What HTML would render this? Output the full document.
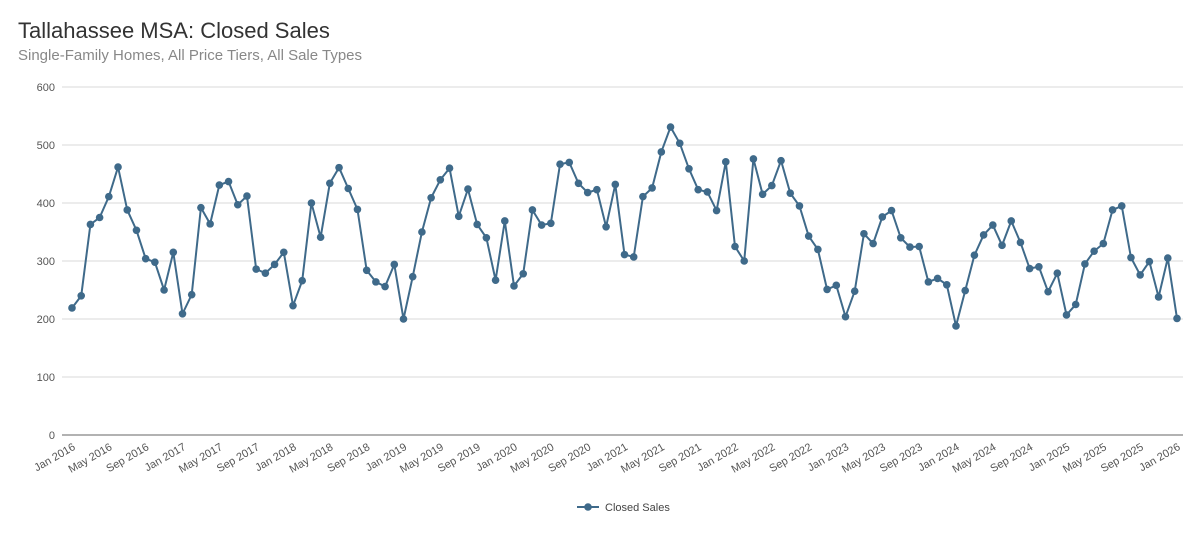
<!DOCTYPE html>
<html><head><meta charset="utf-8"><style>
body{margin:0;background:#fff;font-family:"Liberation Sans",sans-serif;}
#wrap{position:relative;width:1200px;height:550px;overflow:hidden;}
#title{position:absolute;left:18px;top:18px;font-size:22px;color:#333;}
#sub{position:absolute;left:18px;top:47px;font-size:15px;color:#888;}
</style></head><body>
<div id="wrap">
<div id="title">Tallahassee MSA: Closed Sales</div>
<div id="sub">Single-Family Homes, All Price Tiers, All Sale Types</div>
<svg id="svg" width="1200" height="550" style="position:absolute;left:0;top:0"></svg>
</div>
<script>
const yTicks=[0,100,200,300,400,500,600];
const months=["Jan","Feb","Mar","Apr","May","Jun","Jul","Aug","Sep","Oct","Nov","Dec"];
const closedSales=[
219,240,363,375,411,462,388,353,304,298,250,315,
209,242,392,364,431,437,397,412,286,279,294,315,
223,266,400,341,434,461,425,389,284,264,256,294,
200,273,350,409,440,460,377,424,363,340,267,369,
257,278,388,362,365,467,470,434,418,423,359,432,
311,307,411,426,488,531,503,459,423,419,387,471,
325,300,476,415,430,473,417,395,343,320,251,258,
204,248,347,330,376,387,340,324,325,264,270,259,
188,249,310,345,362,327,369,332,287,290,247,279,
207,225,295,317,330,388,395,306,276,299,238,305,
201];
const NS="http://www.w3.org/2000/svg";
const svg=document.getElementById('svg');
const x0=72,x1=1177,y0=435,y1=87,yMax=600;
const xs=i=>x0+(x1-x0)*i/(closedSales.length-1);
const ys=v=>y0-(y0-y1)*v/yMax;
function mk(t,a){const e=document.createElementNS(NS,t);for(const k in a)e.setAttribute(k,a[k]);svg.appendChild(e);return e;}
yTicks.forEach(v=>{
 const l=mk('line',{x1:62,x2:1183,y1:ys(v),y2:ys(v),stroke:v===0?'#999':'#e0e0e0','stroke-width':v===0?1.5:1.2});
 
 
 const t=mk('text',{x:55,y:ys(v)+4,'text-anchor':'end','font-size':11,fill:'#555'});
 t.textContent=v;
 
 
});
for(let i=0;i<closedSales.length;i+=4){
 const lab=months[i%12]+' '+(2016+Math.floor(i/12));
 const t=mk('text',{x:xs(i)+4,y:y0+14,'text-anchor':'end','font-size':11,fill:'#555',transform:`rotate(-30 ${xs(i)+4} ${y0+14})`});
 t.textContent=lab;
 
 
}
const p=mk('polyline',{points:closedSales.map((v,i)=>xs(i)+','+ys(v)).join(' '),fill:'none',stroke:'#3f6a8a','stroke-width':2});


closedSales.forEach((v,i)=>{
 const c=mk('circle',{cx:xs(i),cy:ys(v),r:3.8,fill:'#3f6a8a'});
 
 
});
const g=mk('g',{});


const ll=document.createElementNS(NS,'line');
ll.setAttribute('x1',577);ll.setAttribute('x2',599);ll.setAttribute('y1',507);ll.setAttribute('y2',507);ll.setAttribute('stroke','#3f6a8a');ll.setAttribute('stroke-width',2);
g.appendChild(ll);
const lc=document.createElementNS(NS,'circle');
lc.setAttribute('cx',588);lc.setAttribute('cy',507);lc.setAttribute('r',3.8);lc.setAttribute('fill','#3f6a8a');
g.appendChild(lc);
const lt=document.createElementNS(NS,'text');
lt.setAttribute('x',605);lt.setAttribute('y',511);lt.setAttribute('font-size',11);lt.setAttribute('fill','#444');
lt.textContent='Closed Sales';
g.appendChild(lt);
</script>
</body></html>
